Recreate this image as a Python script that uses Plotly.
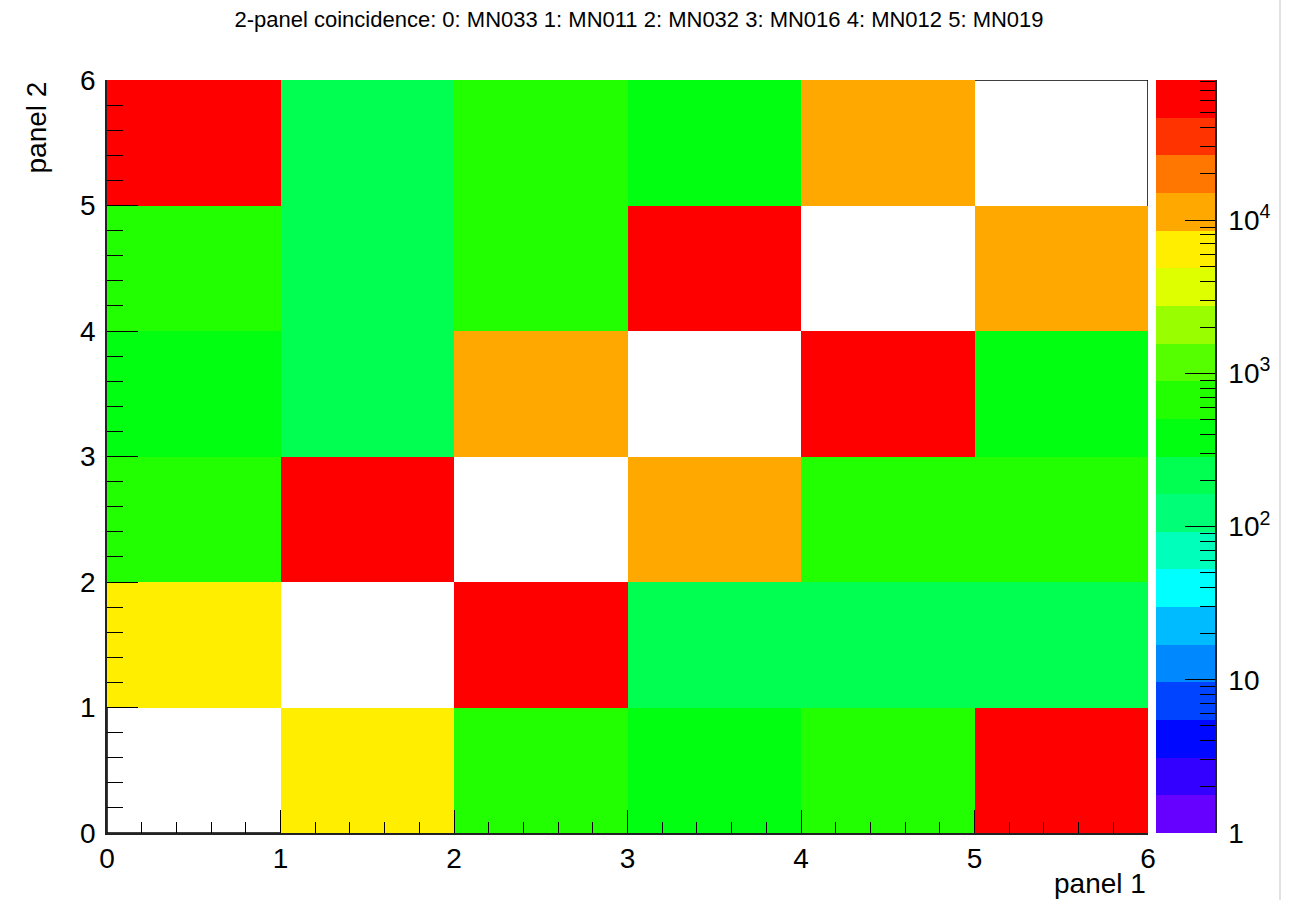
import numpy as np
import plotly.graph_objects as go

# Panel indices (bin centres) and coincidence counts, rows = panel 2, cols = panel 1
panel_centres = [0.5, 1.5, 2.5, 3.5, 4.5, 5.5]
row_p2_0 = [None, 6500, 700, 400, 640, 82000]
row_p2_1 = [6500, None, 58000, 220, 210, 230]
row_p2_2 = [700, 58000, None, 11500, 720, 600]
row_p2_3 = [400, 220, 11500, None, 54000, 380]
row_p2_4 = [640, 210, 720, 54000, None, 10800]
row_p2_5 = [82000, 230, 600, 380, 10800, None]
counts = [row_p2_0, row_p2_1, row_p2_2, row_p2_3, row_p2_4, row_p2_5]

axis_ticks = [0, 1, 2, 3, 4, 5, 6]
cbar_tickvals = [1, 10, 100, 1000, 10000]
cbar_ticktext = ["1", "10", "10<sup>2</sup>", "10<sup>3</sup>", "10<sup>4</sup>"]

title_text = "2-panel coincidence: 0: MN033 1: MN011 2: MN032 3: MN016 4: MN012 5: MN019"

# 20-level rainbow palette, low -> high
palette = [
    "#6600FF", "#3300FF", "#0008FF", "#0044FF", "#0088FF",
    "#00BBFF", "#00FFFF", "#00FFBB", "#00FF77", "#00FF50",
    "#00FF10", "#22FF00", "#55FF00", "#99FF00", "#DDFF00",
    "#FFEE00", "#FFA800", "#FF7700", "#FF3300", "#FF0000",
]
n_lev = len(palette)
stepped = []
for i, c in enumerate(palette):
    stepped.append([i / n_lev, c])
    stepped.append([(i + 1) / n_lev, c])

zmax_val = max(v for row in counts for v in row if v is not None)
ZL = float(np.log10(zmax_val))
zlog = [[(np.log10(v) if v is not None else None) for v in row] for row in counts]

FONT = "Liberation Sans, Arial, Helvetica, sans-serif"
W, H = 1299, 900
ML, MR, MT, MB = 107, 84, 80, 67
PW = W - ML - MR
PH = H - MT - MB
main_right = (1148 - ML) / PW
cbar_left = (1156 - ML) / PW

fig = go.Figure()

fig.add_trace(go.Heatmap(
    x=panel_centres, y=panel_centres, z=zlog,
    colorscale=stepped, zmin=0, zmax=ZL, showscale=False,
    xaxis="x", yaxis="y", hoverinfo="skip",
))

# palette bar drawn as its own heatmap column
lev_edges = [k * ZL / n_lev for k in range(n_lev + 1)]
lev_mid = [[(k + 0.5) * ZL / n_lev] for k in range(n_lev)]
fig.add_trace(go.Heatmap(
    x=[0, 1], y=lev_edges, z=lev_mid,
    colorscale=stepped, zmin=0, zmax=ZL, showscale=False,
    xaxis="x2", yaxis="y2", hoverinfo="skip",
))

minor_log = [float(np.log10(m * 10 ** d)) for d in range(5) for m in range(2, 10)
             if np.log10(m * 10 ** d) <= ZL]

fig.update_layout(
    width=W, height=H,
    margin=dict(l=ML, r=MR, t=MT, b=MB),
    paper_bgcolor="white", plot_bgcolor="white",
    font=dict(family=FONT, color="black"),
    title=dict(text=title_text, x=639 / W, xref="container", xanchor="center",
               y=1 - 19 / H, yref="container", yanchor="middle",
               font=dict(family=FONT, size=22, color="black")),
    xaxis=dict(domain=[0, main_right], range=[0, 6], tickmode="array", tickvals=axis_ticks,
               ticks="inside", ticklen=23, tickwidth=1, tickcolor="black",
               minor=dict(ticks="inside", ticklen=11, dtick=0.2, tick0=0, tickcolor="black", tickwidth=1),
               showline=True, linecolor="#222", linewidth=1.5, showgrid=False, zeroline=False,
               tickfont=dict(size=28, color="black"), ticklabelstandoff=0, anchor="y"),
    yaxis=dict(domain=[0, 1], range=[0, 6], tickmode="array", tickvals=axis_ticks,
               ticks="inside", ticklen=31, tickwidth=1, tickcolor="black",
               minor=dict(ticks="inside", ticklen=16, dtick=0.2, tick0=0, tickcolor="black", tickwidth=1),
               showline=True, linecolor="#222", linewidth=1.5, showgrid=False, zeroline=False,
               tickfont=dict(size=28, color="black"), ticklabelstandoff=4, anchor="x"),
    xaxis2=dict(domain=[cbar_left, 1], range=[0, 1], visible=False, anchor="y2"),
    yaxis2=dict(domain=[0, 1], range=[0, ZL], anchor="x2", side="right",
                tickmode="array", tickvals=[float(np.log10(v)) for v in cbar_tickvals],
                ticktext=cbar_ticktext, ticks="inside", ticklen=30, tickwidth=1, tickcolor="black",
                minor=dict(tickmode="array", tickvals=minor_log, ticks="inside", ticklen=15,
                           tickcolor="black", tickwidth=1),
                showline=True, linecolor="#222", linewidth=1.5, showgrid=False, zeroline=False,
                tickfont=dict(size=28, color="black"), ticklabelstandoff=6),
    shapes=[
        # frame around the plotting area, hidden wherever a cell is filled
        dict(type="rect", xref="x", yref="y", x0=0, x1=6, y0=0, y1=6,
             line=dict(color="black", width=1.5), layer="below"),
        # page edge
        dict(type="line", xref="paper", yref="paper",
             x0=(1280 - ML) / PW, x1=(1280 - ML) / PW, y0=-MB / PH, y1=1 + MT / PH,
             line=dict(color="#e2e2e2", width=2)),
    ],
    annotations=[
        dict(text="panel 1", xref="paper", yref="paper", x=main_right, y=-50 / PH,
             xanchor="right", yanchor="middle", showarrow=False,
             font=dict(family=FONT, size=28, color="black")),
        dict(text="panel 2", xref="paper", yref="paper", x=(18 - ML) / PW, y=1,
             xanchor="left", yanchor="top", textangle=-90, showarrow=False,
             font=dict(family=FONT, size=28, color="black")),
    ],
)

fig.write_html("out.html")
